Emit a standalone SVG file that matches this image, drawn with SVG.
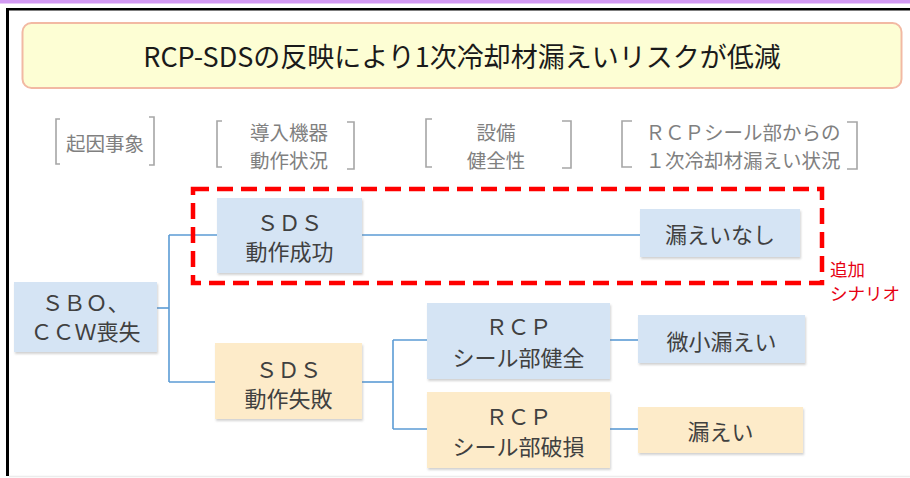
<svg xmlns="http://www.w3.org/2000/svg" width="910" height="478" viewBox="0 0 910 478">
<style>
text{font-family:"Noto Sans CJK JP","Noto Sans",sans-serif;}
.hdr{font-size:19.5px;fill:#808080;text-anchor:middle;dominant-baseline:central;}
.br{fill:none;stroke:#a6a6a6;stroke-width:1.6;}
.nt{font-size:22px;fill:#404040;text-anchor:middle;dominant-baseline:central;}
.blue{fill:#d5e4f4;}
.orange{fill:#fdebc9;}
.conn{fill:none;stroke:#5b9bd5;stroke-width:1.6;}
.red{font-size:17.5px;fill:#e60012;dominant-baseline:central;}
</style>
<defs>
<filter id="sh" x="-10%" y="-10%" width="125%" height="130%">
<feDropShadow dx="1" dy="2" stdDeviation="1" flood-color="#808080" flood-opacity="0.35"/>
</filter>
</defs>
<rect x="0" y="0" width="910" height="478" fill="#ffffff"/>
<g id="frame">
<rect x="0" y="0" width="910" height="3.5" fill="#d29af2"/>
<line x1="6" y1="9.3" x2="910" y2="9.3" stroke="#000" stroke-width="2.6"/>
<line x1="7.5" y1="8" x2="7.5" y2="476" stroke="#000" stroke-width="3"/>
<line x1="9" y1="476.5" x2="910" y2="476.5" stroke="#ececec" stroke-width="1.5"/>
</g>
<g id="title">
<rect x="22.5" y="23" width="879" height="65" rx="9" fill="#fdfed4" stroke="#f2b9a3" stroke-width="2"/>
<text x="462" y="55.5" font-size="27" fill="#1a1a1a" text-anchor="middle" dominant-baseline="central">RCP-SDSの反映により1次冷却材漏えいリスクが低減</text>
</g>
<g id="headers">
<path class="br" d="M60,119 H56 V164 H60"/>
<path class="br" d="M149,117 H154 V165 H149"/>
<text class="hdr" x="105" y="142">起因事象</text>
<path class="br" d="M222,121 H217 V167 H222"/>
<path class="br" d="M347,122 H354 V169 H347"/>
<text class="hdr" x="289" y="131">導入機器</text>
<text class="hdr" x="289" y="159">動作状況</text>
<path class="br" d="M432,119 H426 V167 H432"/>
<path class="br" d="M562,121 H571 V168 H562"/>
<text class="hdr" x="496" y="131">設備</text>
<text class="hdr" x="496" y="159">健全性</text>
<path class="br" d="M632,121 H622 V167 H632"/>
<path class="br" d="M847,122 H857 V169 H847"/>
<text class="hdr" x="743" y="131">ＲＣＰシール部からの</text>
<text class="hdr" x="743" y="159">１次冷却材漏えい状況</text>
</g>
<g id="connectors">
<path class="conn" d="M157,308 H169"/>
<path class="conn" d="M169,235 V382"/>
<path class="conn" d="M169,235 H217"/>
<path class="conn" d="M169,382 H215"/>
<path class="conn" d="M362,235 H640"/>
<path class="conn" d="M362,382 H393"/>
<path class="conn" d="M393,340 V429"/>
<path class="conn" d="M393,340 H427"/>
<path class="conn" d="M393,429 H427"/>
<path class="conn" d="M610,340 H638"/>
<path class="conn" d="M610,429 H638"/>
</g>
<g id="node-sbo">
<rect class="blue" x="14" y="282" width="143" height="70" filter="url(#sh)"/>
<text class="nt" x="85.5" y="301">ＳＢＯ、</text>
<text class="nt" x="85.5" y="330">ＣＣＷ喪失</text>
</g>
<g id="node-sds-success">
<rect class="blue" x="217" y="198" width="145" height="75" filter="url(#sh)"/>
<text class="nt" x="289.5" y="221">ＳＤＳ</text>
<text class="nt" x="289.5" y="250">動作成功</text>
</g>
<g id="node-no-leak">
<rect class="blue" x="640" y="209" width="160" height="48" filter="url(#sh)"/>
<text class="nt" x="720" y="233">漏えいなし</text>
</g>
<g id="node-sds-fail">
<rect class="orange" x="215" y="343" width="147" height="76" filter="url(#sh)"/>
<text class="nt" x="288.5" y="368">ＳＤＳ</text>
<text class="nt" x="288.5" y="397">動作失敗</text>
</g>
<g id="node-rcp-ok">
<rect class="blue" x="427" y="303" width="183" height="76" filter="url(#sh)"/>
<text class="nt" x="518.5" y="325">ＲＣＰ</text>
<text class="nt" x="518.5" y="356">シール部健全</text>
</g>
<g id="node-rcp-broken">
<rect class="orange" x="427" y="392" width="183" height="76" filter="url(#sh)"/>
<text class="nt" x="518.5" y="415">ＲＣＰ</text>
<text class="nt" x="518.5" y="445">シール部破損</text>
</g>
<g id="node-small-leak">
<rect class="blue" x="638" y="315" width="167" height="48" filter="url(#sh)"/>
<text class="nt" x="721.5" y="340">微小漏えい</text>
</g>
<g id="node-leak">
<rect class="orange" x="638" y="407" width="165" height="46" filter="url(#sh)"/>
<text class="nt" x="720.5" y="430">漏えい</text>
</g>
<g id="added-scenario">
<rect x="193" y="189" width="629" height="94" fill="none" stroke="#ff0000" stroke-width="4.5" stroke-dasharray="16 8"/>
<text class="red" x="830" y="268">追加</text>
<text class="red" x="830" y="292">シナリオ</text>
</g>
</svg>
